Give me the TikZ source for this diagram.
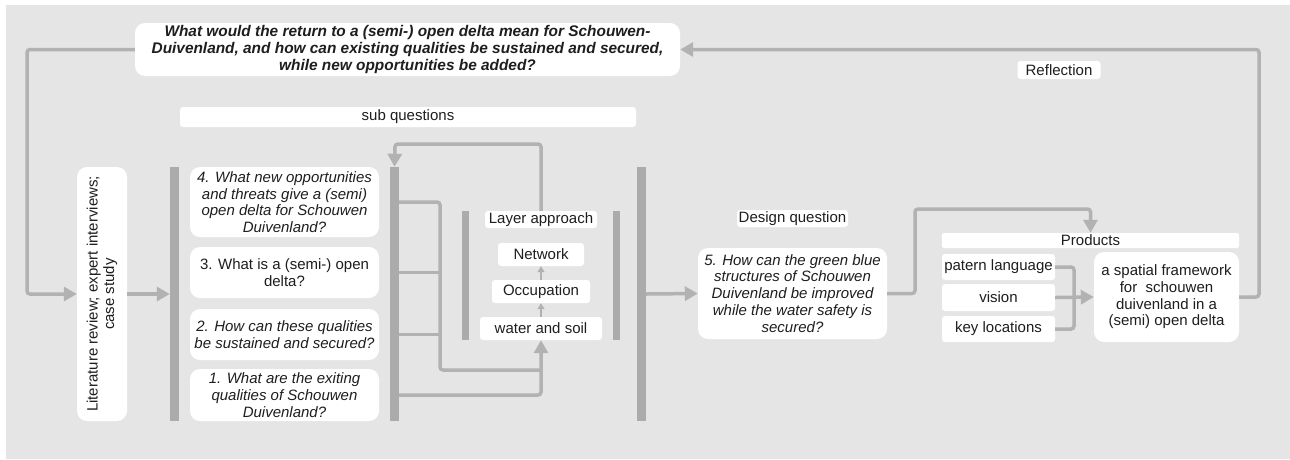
\documentclass[tikz,border=0pt]{standalone}
\usepackage{fontspec}
\setmainfont{Liberation Sans}
\usetikzlibrary{arrows.meta,positioning}

\definecolor{bgray}{HTML}{E5E5E5}
\definecolor{lgray}{HTML}{B2B2B2}
\definecolor{dgray}{HTML}{ABABAB}
\definecolor{txt}{HTML}{1E1E1E}

\begin{document}
\begin{tikzpicture}[x=1pt,y=-1pt,>={Triangle[length=13pt,width=14pt]},
    font=\fontsize{15}{16.7}\selectfont,text=txt,
    qbox/.style={fill=white,rounded corners=10pt,inner sep=0pt,align=center},
    sbox/.style={fill=white,rounded corners=3pt,inner sep=0pt,align=center},
    bar/.style={fill=dgray,inner sep=0pt,minimum width=9pt},
    line/.style={draw=lgray,line width=3.5pt,rounded corners=3pt},
    thin/.style={draw=lgray,line width=2pt,-{Triangle[length=6pt,width=7pt]}}]
        \useasboundingbox (0,0) rectangle (1290,459);
        \fill[bgray] (6,5) rectangle (1290,459);

        % main question
        \node[qbox,minimum width=545pt,minimum height=53pt,font=\fontsize{15.4}{16.7}\selectfont\bfseries\itshape] (mq) at (407.5,49.5)
            {What would the return to a (semi-) open delta mean for Schouwen-\\Duivenland, and how can existing qualities be sustained and secured,\\while new opportunities be added?};
        \node[sbox,minimum width=83pt,minimum height=18pt] (refl) at (1059,70) {Reflection};
        \node[sbox,minimum width=456pt,minimum height=20pt] (sub) at (408,117) {sub questions};

        % research
        \node[qbox,minimum width=254pt,minimum height=50pt,rotate=90] (lit) at (102,294)
            {Literature review; expert interviews;\\case study};
        \node[bar,minimum height=254pt] (b1) at (174.5,294) {};
        \node[qbox,minimum width=189pt,minimum height=70pt,font=\fontsize{15}{16.7}\selectfont\itshape] (q4) at (284.5,202)
            {4. What new opportunities\\and threats give a (semi)\\open delta for Schouwen\\Duivenland?};
        \node[qbox,minimum width=189pt,minimum height=51pt] (q3) at (284.5,272.5)
            {3. What is a (semi-) open\\delta?};
        \node[qbox,minimum width=189pt,minimum height=51pt,font=\fontsize{15}{16.7}\selectfont\itshape] (q2) at (284.5,334.5)
            {2. How can these qualities\\be sustained and secured?};
        \node[qbox,minimum width=189pt,minimum height=52pt,font=\fontsize{15}{16.7}\selectfont\itshape] (q1) at (284.5,395)
            {1. What are the exiting\\qualities of Schouwen\\Duivenland?};
        \node[bar,minimum height=254pt] (b2) at (394.5,294) {};

        % layers
        \node[bar,minimum width=7pt,minimum height=129pt] (lb1) at (465.5,275.5) {};
        \node[bar,minimum width=7pt,minimum height=129pt] (lb2) at (616.5,275.5) {};
        \node[sbox,minimum width=112pt,minimum height=17pt] (lay) at (541,219.5) {Layer approach};
        \node[sbox,minimum width=86pt,minimum height=23pt] (nw) at (541,254.5) {Network};
        \node[sbox,minimum width=98pt,minimum height=23pt] (oc) at (541,291.5) {Occupation};
        \node[sbox,minimum width=122pt,minimum height=23pt] (ws) at (541,328.5) {water and soil};
        \node[bar,minimum height=254pt] (b3) at (641.5,294) {};

        % design
        \node[sbox,minimum width=111pt,minimum height=17pt] (dq) at (792.5,218.5) {Design question};
        \node[qbox,minimum width=189pt,minimum height=91pt,font=\fontsize{15}{16.9}\selectfont\itshape] (q5) at (792.5,293.5)
            {5. How can the green blue\\structures of Schouwen\\Duivenland be improved\\while the water safety is\\secured?};

        % products
        \node[sbox,minimum width=297pt,minimum height=15pt,rounded corners=2pt] (prod) at (1090.5,240.5) {Products};
        \node[sbox,minimum width=113pt,minimum height=26pt] (pl) at (998.5,267) {patern language};
        \node[sbox,minimum width=113pt,minimum height=27pt] (vi) at (998.5,297.5) {vision};
        \node[sbox,minimum width=113pt,minimum height=26pt] (kl) at (998.5,329) {key locations};
        \node[qbox,minimum width=145pt,minimum height=90pt] (sf) at (1166.5,297)
            {a spatial framework\\for~ schouwen\\duivenland in a\\(semi) open delta};

        \coordinate (lp) at (27,294);
        \coordinate (fb) at (395,144);
        \coordinate (jn) at (440,370);
        \coordinate (c1) at (915,209);
        \coordinate (jp) at (1074,297);
        \coordinate (c2) at (1259,49.5);

        \draw[line,->] (mq.west) -| (lp) -- (lit.north);
        \draw[line,->] (lit.south) -- (b1.west);
        \draw[line,->] (b3.east) -- (q5.west);
        \draw[line] (b2.east |- q4.east) -| (jn) -- (jn -| ws.south);
        \draw[line] (b2.east |- q3.east) -- (jn |- q3.east);
        \draw[line] (b2.east |- q2.east) -- (jn |- q2.east);
        \draw[line,->] (b2.east |- q1.east) -| (ws.south);
        \draw[line,->] (lay.north) |- (fb) -- (b2.north);
        \draw[thin] (ws.north) -- (oc.south);
        \draw[thin] (oc.north) -- (nw.south);
        \draw[line,->] (q5.east) -| (c1) -| (prod.north);
        \draw[line] (pl.east) -| (jp);
        \draw[line] (kl.east) -| (jp);
        \draw[line,->] (vi.east) -- (sf.west);
        \draw[line,->] (sf.east) -| (c2) -- (mq.east);
    \end{tikzpicture}
\end{document}
